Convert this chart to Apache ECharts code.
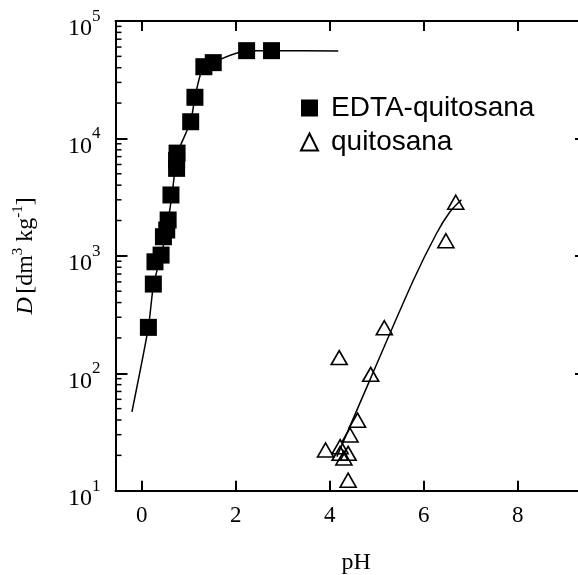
<!DOCTYPE html>
<html>
<head>
<meta charset="utf-8">
<script src="https://cdn.jsdelivr.net/npm/echarts@6/dist/echarts.min.js"></script>
<style>html,body{margin:0;padding:0;background:#fff}#c{width:578px;height:575px}</style>
</head>
<body>
<div id="c"></div>
<script>
// ---- data ----
const xTicks = [0, 2, 4, 6, 8];
const yMinorTicks = [20,30,40,50,60,70,80,90,200,300,400,500,600,700,800,900,2000,3000,4000,5000,6000,7000,8000,9000,20000,30000,40000,50000,60000,70000,80000,90000];
const edtaPH = [0.14, 0.245, 0.28, 0.41, 0.46, 0.53, 0.56, 0.62, 0.74, 0.74, 0.75, 1.04, 1.13, 1.32, 1.52, 2.23, 2.76];
const edtaD  = [246, 575, 890, 1015, 1455, 1660, 2020, 3300, 5560, 6500, 7500, 13870, 22400, 40800, 44200, 55900, 55900];
const quitPH = [3.91, 4.22, 4.22, 4.39, 4.30, 4.43, 4.59, 4.39, 4.20, 4.87, 5.16, 6.47, 6.68];
const quitD  = [22.2, 23.7, 20.8, 20.8, 19.0, 29.8, 39.9, 12.3, 136, 98, 244, 1345, 2860];
const edtaFitPH = [-0.21, 0.14, 0.25, 0.41, 0.56, 0.65, 0.76, 1.04, 1.13, 1.28, 1.52, 2.23, 2.76, 4.18];
const edtaFitD  = [47, 246, 575, 1000, 2000, 3500, 7500, 13900, 22400, 38000, 44500, 55900, 55900, 55600];
const quitFitPH = [4.15, 4.87, 5.78, 6.27, 6.55, 6.8];
const quitFitD  = [19.5, 91, 622, 1550, 2350, 3000];

const zip = (a, b) => a.map((v, i) => [v, b[i]]);
const X_MIN = -0.56, X_MAX = 9.43;
const serif = '"Liberation Serif", "DejaVu Serif", serif';
const sans = '"Liberation Sans", Arial, sans-serif';

const axisLine = { show: true, onZero: false, lineStyle: { color: '#000', width: 2 } };

const chart = echarts.init(document.getElementById('c'), null, { renderer: 'canvas' });
chart.setOption({
  backgroundColor: '#fff',
  animation: false,
  grid: { left: 115.5, top: 21, right: -7, bottom: 84.3, containLabel: false, outerBoundsMode: 'none' },
  legend: {
    left: 300, top: 94, orient: 'vertical', padding: 0,
    data: ['EDTA-quitosana', 'quitosana'],
    itemWidth: 17, itemHeight: 17, itemGap: 6,
    textStyle: { fontSize: 28, lineHeight: 28, fontFamily: sans, color: '#000', padding: [0, 0, 0, 8] }
  },
  xAxis: [
    {
      type: 'value', min: X_MIN, max: X_MAX, position: 'bottom',
      axisLine,
      axisTick: { inside: true, length: 10, customValues: xTicks, lineStyle: { color: '#000', width: 2 } },
      axisLabel: { customValues: xTicks, margin: 14, fontSize: 23, fontFamily: serif, color: '#000' },
      splitLine: { show: false },
      name: 'pH', nameLocation: 'middle', nameGap: 60,
      nameTextStyle: { fontSize: 24, fontFamily: serif, color: '#000', padding: [0, 0, 0, 12] }
    },
    {
      type: 'value', min: X_MIN, max: X_MAX, position: 'top',
      axisLine,
      axisTick: { inside: true, length: 10, customValues: xTicks, lineStyle: { color: '#000', width: 2 } },
      axisLabel: { show: false },
      splitLine: { show: false }
    }
  ],
  yAxis: [
    {
      type: 'log', logBase: 10, min: 10, max: 100000, position: 'left',
      axisLine,
      axisTick: { inside: true, length: 12, lineStyle: { color: '#000', width: 2 } },
      axisLabel: {
        margin: 15, color: '#000',
        formatter: v => '{b|10}{s|' + Math.round(Math.log10(v)) + '}',
        rich: {
          b: { fontSize: 24, fontFamily: serif, color: '#000', lineHeight: 40, verticalAlign: 'bottom' },
          s: { fontSize: 17, fontFamily: serif, color: '#000', lineHeight: 40, verticalAlign: 'top', padding: [7, 0, 0, 0] }
        }
      },
      splitLine: { show: false },
      name: '{i|D} {n|[dm}{s|3}{n| kg}{s|-1}{n|]}',
      nameLocation: 'middle', nameRotate: 90, nameGap: 78,
      nameTextStyle: {
        color: '#000',
        rich: {
          i: { fontSize: 24, fontFamily: serif, fontStyle: 'italic', color: '#000', lineHeight: 30, verticalAlign: 'bottom' },
          n: { fontSize: 24, fontFamily: serif, color: '#000', lineHeight: 30, verticalAlign: 'bottom' },
          s: { fontSize: 15, fontFamily: serif, color: '#000', lineHeight: 30, verticalAlign: 'top', padding: [3, 0, 0, 0] }
        }
      }
    },
    {
      type: 'log', logBase: 10, min: 10, max: 100000, position: 'right',
      axisLine,
      axisTick: { inside: true, length: 10, lineStyle: { color: '#000', width: 2 } },
      axisLabel: { show: false },
      splitLine: { show: false }
    }
  ],
  series: [
    {
      name: 'minorTicks', type: 'custom', xAxisIndex: 0, yAxisIndex: 0, silent: true, clip: false,
      data: yMinorTicks.map(v => [X_MIN, v]),
      renderItem: (params, api) => {
        const p = api.coord([api.value(0), api.value(1)]);
        return { type: 'line', shape: { x1: p[0], y1: p[1], x2: p[0] + 6, y2: p[1] }, style: { stroke: '#000', lineWidth: 1.5 } };
      },
      z: 1
    },
    {
      name: 'edtaFit', type: 'line', data: zip(edtaFitPH, edtaFitD), showSymbol: false, smooth: 0.2,
      lineStyle: { color: '#000', width: 1.5 }, z: 2, silent: true
    },
    {
      name: 'quitFit', type: 'line', data: zip(quitFitPH, quitFitD), showSymbol: false, smooth: 0.3,
      lineStyle: { color: '#000', width: 1.5 }, z: 2, silent: true
    },
    {
      name: 'EDTA-quitosana', type: 'scatter', data: zip(edtaPH, edtaD),
      symbol: 'rect', symbolSize: 17, itemStyle: { color: '#000', opacity: 1 }, z: 3
    },
    {
      name: 'quitosana', type: 'scatter', data: zip(quitPH, quitD),
      symbol: 'triangle', symbolSize: [16, 14],
      itemStyle: { color: 'rgba(255,255,255,0)', borderColor: '#000', borderWidth: 1.6, opacity: 1 }, z: 3
    }
  ]
});
</script>
</body>
</html>
